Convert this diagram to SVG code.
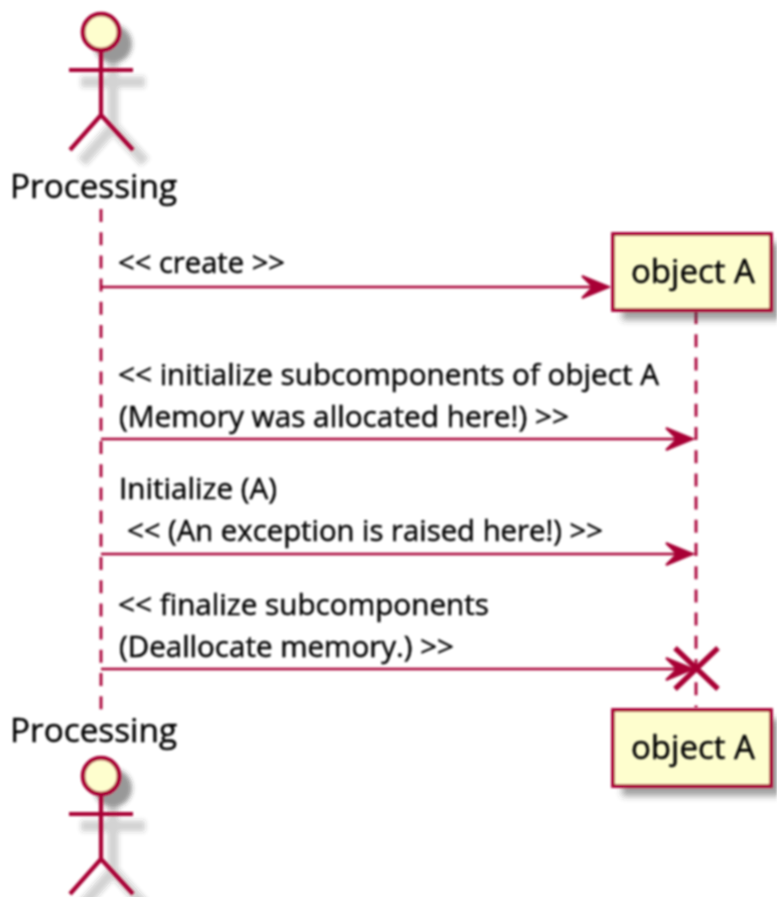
<svg xmlns="http://www.w3.org/2000/svg" width="777" height="897" viewBox="0 0 777 897">
<defs>
<style>
.ln{stroke:#A80036;stroke-width:2.6;fill:none}
.life{stroke:#A80036;stroke-width:2.8;fill:none;stroke-dasharray:13 10.2}
.act{stroke:#A80036;stroke-width:4.2;fill:none}
.head{stroke:#A80036;stroke-width:4.6;fill:#FEFECE}
.box{stroke:#A80036;stroke-width:3.8;fill:#FEFECE}
.ah{fill:#A80036;stroke:#A80036;stroke-width:2}
text{fill:#000;stroke:#000;stroke-width:0.45;filter:url(#txt);font-family:"Open Sans",sans-serif}
.t{font-size:32px}
.n{font-size:32px}
.m{font-size:29.5px}
</style>
<filter id="soft" filterUnits="userSpaceOnUse" x="0" y="0" width="777" height="897"><feGaussianBlur stdDeviation="0.8"/></filter>
<filter id="txt" filterUnits="userSpaceOnUse" x="0" y="0" width="777" height="897"><feGaussianBlur stdDeviation="0.8"/></filter>
<filter id="sh" filterUnits="userSpaceOnUse" x="0" y="0" width="777" height="897"><feGaussianBlur stdDeviation="3"/></filter>
<filter id="sh2" filterUnits="userSpaceOnUse" x="0" y="0" width="777" height="897"><feGaussianBlur stdDeviation="2"/></filter>
<g id="actor">
<g filter="url(#sh2)" transform="translate(12,12)">
<circle cx="101" cy="32" r="19" fill="#333" opacity="0.5"/>
<path d="M101 50V115M69 70H133M101 115L70 150M101 115L133 150" fill="none" stroke="#333" stroke-width="11" opacity="0.22"/>
</g>
<circle class="head" cx="101" cy="32" r="18"/>
<path class="act" d="M101 52V115M69 70H133M101 115L70 150M101 115L133 150"/>
</g>
</defs>
<g id="connectors">
<g filter="url(#soft)">
<path class="life" d="M101 209V712"/>
<path class="life" d="M696 311V708"/>
<g id="msg1"><path class="ln" d="M101 287H600"/><path class="ah" d="M609 287L582 276L593 287L582 298Z"/></g>
<g id="msg2"><path class="ln" d="M101 439H684"/><path class="ah" d="M693 439L666 428L677 439L666 450Z"/></g>
<g id="msg3"><path class="ln" d="M101 554H684"/><path class="ah" d="M693 554L666 543L677 554L666 565Z"/></g>
<g id="msg4"><path class="ln" d="M101 669H684"/><path class="ah" d="M693 669L666 658L677 669L666 680Z"/>
<path d="M675 648L718 689M718 648L675 689" stroke="#A80036" stroke-width="5.2" fill="none"/></g>
</g>
<text class="m" x="118" y="273" textLength="167" lengthAdjust="spacingAndGlyphs">&lt;&lt; create &gt;&gt;</text>
<text class="m" x="118" y="385" textLength="541" lengthAdjust="spacingAndGlyphs">&lt;&lt; initialize subcomponents of object A</text>
<text class="m" x="119" y="427" textLength="450" lengthAdjust="spacingAndGlyphs">(Memory was allocated here!) &gt;&gt;</text>
<text class="m" x="119" y="499" textLength="158" lengthAdjust="spacingAndGlyphs">Initialize (A)</text>
<text class="m" x="127" y="541" textLength="476" lengthAdjust="spacingAndGlyphs">&lt;&lt; (An exception is raised here!) &gt;&gt;</text>
<text class="m" x="118" y="615" textLength="371" lengthAdjust="spacingAndGlyphs">&lt;&lt; finalize subcomponents</text>
<text class="m" x="119" y="657" textLength="335" lengthAdjust="spacingAndGlyphs">(Deallocate memory.) &gt;&gt;</text>
</g>
<g id="actor-top"><use href="#actor" filter="url(#soft)"/><text class="n" x="10" y="198" textLength="167" lengthAdjust="spacingAndGlyphs">Processing</text></g>
<g id="actor-bottom"><use href="#actor" transform="translate(0,744)" filter="url(#soft)"/><text class="n" x="10" y="742" textLength="167" lengthAdjust="spacingAndGlyphs">Processing</text></g>
<g id="object-top">
<g filter="url(#soft)">
<rect x="622" y="243" width="159" height="77" fill="#444" opacity="0.5" filter="url(#sh)"/>
<rect class="box" x="613" y="234" width="158" height="76"/>
</g>
<text class="t" x="631" y="283" textLength="124" lengthAdjust="spacingAndGlyphs">object A</text>
</g>
<g id="object-bottom">
<g filter="url(#soft)">
<rect x="622" y="719" width="159" height="77" fill="#444" opacity="0.5" filter="url(#sh)"/>
<rect class="box" x="613" y="710" width="158" height="76"/>
</g>
<text class="t" x="631" y="759" textLength="124" lengthAdjust="spacingAndGlyphs">object A</text>
</g>
</svg>
